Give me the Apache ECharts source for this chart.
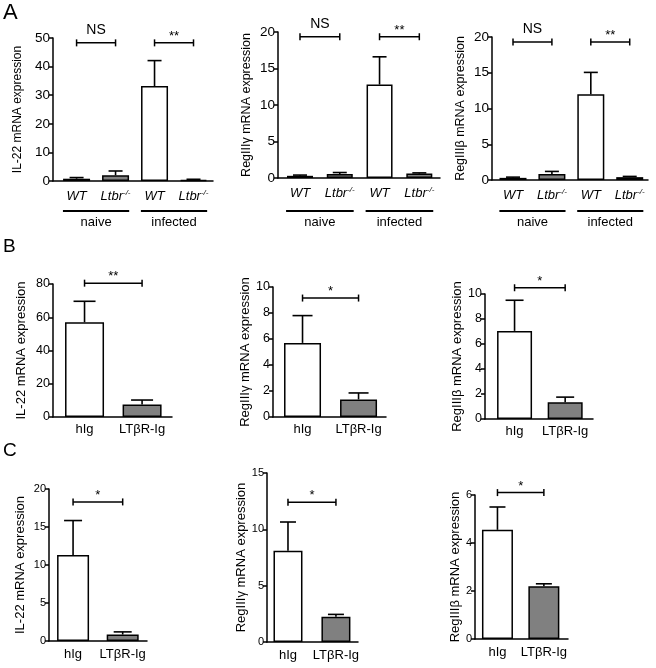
<!DOCTYPE html>
<html>
<head>
<meta charset="utf-8">
<script src="https://cdn.jsdelivr.net/npm/echarts@6/dist/echarts.min.js"></script>
<style>html,body{margin:0;padding:0;background:#fff}#c{width:656px;height:668px}</style>
</head>
<body>
<div id="c"></div>
<script>
// ---------- data ----------
const catsA = ['WT', 'Ltbr-/-', 'WT', 'Ltbr-/-'];
const groupsA = ['naive', 'infected'];
const groupSpansA = [[-0.35, 1.35], [1.65, 3.35]];
const catsBC = ['hIg', 'LTβR-Ig'];

const il22A = [0.8, 2.0, 33.2, 0.4];
const il22ASem = [0.4, 1.5, 8.9, 0.2];
const reg3gA = [0.3, 0.55, 12.8, 0.6];
const reg3gASem = [0.1, 0.2, 3.8, 0.1];
const reg3bA = [0.3, 0.85, 12.0, 0.4];
const reg3bASem = [0.1, 0.35, 3.05, 0.1];

const il22B = [57, 7.5];
const il22BSem = [12.6, 2.7];
const reg3gB = [5.7, 1.35];
const reg3gBSem = [2.1, 0.5];
const reg3bB = [7.05, 1.35];
const reg3bBSem = [2.45, 0.4];

const il22C = [11.3, 0.85];
const il22CSem = [4.55, 0.35];
const reg3gC = [8.1, 2.25];
const reg3gCSem = [2.55, 0.2];
const reg3bC = [4.55, 2.2];
const reg3bCSem = [0.95, 0.1];

const sigLabelsA = ['NS', '**'];
const sigPairsA = [[0, 1], [2, 3]];
const sigHeightsA1 = [48.3, 48.3];
const sigHeightsA2 = [19.35, 19.35];
const sigHeightsA3 = [19.3, 19.3];
const sigB = ['**', '*', '*'];
const sigHeightsB = [80.5, 9.15, 10.5];
const sigC = ['*', '*', '*'];
const sigHeightsC = [18.3, 12.4, 6.1];

const yMaxes = [50, 20, 20, 80, 10, 10, 20, 15, 6];
const yIntervals = [10, 5, 5, 20, 2, 2, 5, 5, 2];
const yNames = ['IL-22 mRNA expression', 'RegIIIγ mRNA expression', 'RegIIIβ mRNA expression',
                'IL-22 mRNA expression', 'RegIIIγ mRNA expression', 'RegIIIβ mRNA expression',
                'IL-22 mRNA expression', 'RegIIIγ mRNA expression', 'RegIIIβ mRNA expression'];
const panelLetters = ['A', 'B', 'C'];

// ---------- layout / styles ----------
const FONT = 'Liberation Sans, Arial, Helvetica, sans-serif';
const WHITE = '#ffffff', GRAY = '#808080';
const panels = [
  {L:53, T:38, Y0:181, E:213, xmin:-0.605, xmax:3.5, bw:27, cats:catsA, vals:il22A, sem:il22ASem, tick:13.5, nameSize:12, gap:29, lab:13, labMargin:8, sig:sigLabelsA, pairs:sigPairsA, sh:sigHeightsA1, groups:true, gOff:30},
  {L:278, T:32, Y0:178, E:440, xmin:-0.553, xmax:3.52, bw:26, cats:catsA, vals:reg3gA, sem:reg3gASem, tick:13.5, nameSize:12.5, gap:25, lab:13, labMargin:8, sig:sigLabelsA, pairs:sigPairsA, sh:sigHeightsA2, groups:true, gOff:33},
  {L:492, T:37, Y0:180, E:648, xmin:-0.54, xmax:3.47, bw:27, cats:catsA, vals:reg3bA, sem:reg3bASem, tick:13.5, nameSize:12.5, gap:25, lab:13, labMargin:8, sig:sigLabelsA, pairs:sigPairsA, sh:sigHeightsA3, groups:true, gOff:31},
  {L:53, T:284, Y0:417, E:172, xmin:-0.548, xmax:1.52, bw:39, cats:catsBC, vals:il22B, sem:il22BSem, tick:12.5, nameSize:13, gap:25, lab:13, labMargin:6, sig:[sigB[0]], pairs:[[0,1]], sh:[sigHeightsB[0]]},
  {L:273, T:287, Y0:417, E:386, xmin:-0.527, xmax:1.49, bw:37, cats:catsBC, vals:reg3gB, sem:reg3gBSem, tick:12.5, nameSize:13, gap:20, lab:13, labMargin:6, sig:[sigB[1]], pairs:[[0,1]], sh:[sigHeightsB[1]]},
  {L:485, T:294, Y0:419, E:593, xmin:-0.584, xmax:1.55, bw:35, cats:catsBC, vals:reg3bB, sem:reg3bBSem, tick:12.5, nameSize:13, gap:20, lab:13, labMargin:6, sig:[sigB[2]], pairs:[[0,1]], sh:[sigHeightsB[2]]},
  {L:49, T:489, Y0:641, E:147, xmin:-0.485, xmax:1.49, bw:32, cats:catsBC, vals:il22C, sem:il22CSem, tick:11, nameSize:13, gap:22, lab:13, labMargin:7, sig:[sigC[0]], pairs:[[0,1]], sh:[sigHeightsC[0]]},
  {L:267, T:473, Y0:642, E:358, xmin:-0.4375, xmax:1.46, bw:29, cats:catsBC, vals:reg3gC, sem:reg3gCSem, tick:11, nameSize:13, gap:19, lab:13, labMargin:7, sig:[sigC[1]], pairs:[[0,1]], sh:[sigHeightsC[1]]},
  {L:475, T:495, Y0:639, E:568, xmin:-0.484, xmax:1.52, bw:31, cats:catsBC, vals:reg3bC, sem:reg3bCSem, tick:11, nameSize:13, gap:12, lab:13, labMargin:7, sig:[sigC[2]], pairs:[[0,1]], sh:[sigHeightsC[2]]}
];

const lineStyle = {color:'#000', width:1.5};
const option = {
  animation:false,
  backgroundColor:'#fff',
  textStyle:{fontFamily:FONT},
  title:[
    {text:panelLetters[0], left:3, top:2, padding:0, textStyle:{fontSize:22, fontWeight:'normal', color:'#000', fontFamily:FONT}},
    {text:panelLetters[1], left:3, top:237, padding:0, textStyle:{fontSize:19, fontWeight:'normal', color:'#000', fontFamily:FONT}},
    {text:panelLetters[2], left:3, top:441, padding:0, textStyle:{fontSize:19, fontWeight:'normal', color:'#000', fontFamily:FONT}}
  ],
  grid:[], xAxis:[], yAxis:[], series:[]
};

function labelFmt(cats){
  return function(v){
    const s = cats[Math.round(v)];
    if (s === 'Ltbr-/-') return '{i|Ltbr}{s|-/-}';
    if (s === 'WT') return '{i|WT}';
    return s;
  };
}

panels.forEach((p, i) => {
  option.grid.push({left:p.L, top:p.T, width:p.E - p.L, height:p.Y0 - p.T, containLabel:false});
  const idx = p.cats.map((c, k) => k);
  option.xAxis.push({
    type:'value', gridIndex:i, min:p.xmin, max:p.xmax,
    axisLine:{show:true, onZero:false, lineStyle:lineStyle},
    axisTick:{show:false},
    splitLine:{show:false},
    axisLabel:{customValues:idx, formatter:labelFmt(p.cats), color:'#000', fontSize:p.lab, margin:p.labMargin, fontFamily:FONT,
      rich:{i:{fontStyle:'italic', fontSize:p.lab, color:'#000', fontFamily:FONT, lineHeight:15},
            s:{fontStyle:'italic', fontSize:8, color:'#000', fontFamily:FONT, verticalAlign:'top', lineHeight:8}}}
  });
  option.yAxis.push({
    type:'value', gridIndex:i, min:0, max:yMaxes[i], interval:yIntervals[i],
    name:yNames[i], nameLocation:'middle', nameGap:p.gap, nameRotate:90,
    nameTextStyle:{fontSize:p.nameSize, color:'#000', fontFamily:FONT},
    axisLine:{show:true, onZero:false, lineStyle:lineStyle},
    axisTick:{show:true, length:4, lineStyle:lineStyle},
    splitLine:{show:false},
    axisLabel:{color:'#000', fontSize:p.tick, margin:3, fontFamily:FONT}
  });
  // bars
  option.series.push({
    type:'bar', xAxisIndex:i, yAxisIndex:i, barWidth:p.bw,
    data:p.vals.map((v, k) => ({value:[k, v], itemStyle:{color: (k % 2 === 0) ? WHITE : GRAY, borderColor:'#000', borderWidth:1.5}}))
  });
  // error bars
  const cap = Math.round(p.bw * 0.27);
  option.series.push({
    type:'custom', xAxisIndex:i, yAxisIndex:i, clip:false, z:5,
    encode:{x:0, y:[1, 2]},
    data:p.vals.map((v, k) => [k, v, v + p.sem[k]]),
    renderItem:function(params, api){
      const x = api.value(0);
      const a = api.coord([x, api.value(1)]);
      const b = api.coord([x, api.value(2)]);
      const st = {stroke:'#000', lineWidth:1.6};
      return {type:'group', children:[
        {type:'line', shape:{x1:a[0], y1:a[1], x2:b[0], y2:b[1]}, style:st},
        {type:'line', shape:{x1:b[0]-cap, y1:b[1], x2:b[0]+cap, y2:b[1]}, style:st}
      ]};
    }
  });
  // significance brackets
  option.series.push({
    type:'custom', xAxisIndex:i, yAxisIndex:i, clip:false, z:5,
    encode:{x:[0, 1], y:2},
    data:p.pairs.map((pr, k) => [pr[0], pr[1], p.sh[k]]),
    renderItem:function(params, api){
      const a = api.coord([api.value(0), api.value(2)]);
      const b = api.coord([api.value(1), api.value(2)]);
      const st = {stroke:'#000', lineWidth:1.5};
      const lbl = p.sig[params.dataIndex];
      const isStar = lbl.indexOf('*') >= 0;
      return {type:'group', children:[
        {type:'line', shape:{x1:a[0], y1:a[1], x2:b[0], y2:b[1]}, style:st},
        {type:'line', shape:{x1:a[0], y1:a[1]-3.5, x2:a[0], y2:a[1]+3.5}, style:st},
        {type:'line', shape:{x1:b[0], y1:b[1]-3.5, x2:b[0], y2:b[1]+3.5}, style:st},
        {type:'text', x:(a[0]+b[0])/2, y:a[1] - (isStar ? 0 : 6),
          style:{text:lbl, fill:'#000', font:(isStar ? '13px ' : '14px ') + FONT, align:'center', verticalAlign:'bottom'}}
      ]};
    }
  });
  // group lines (panel A)
  if (p.groups) {
    option.series.push({
      type:'custom', xAxisIndex:i, yAxisIndex:i, clip:false, z:5,
      encode:{x:[0, 1]},
      data:groupSpansA.map(s => [s[0], s[1]]),
      renderItem:function(params, api){
        const a = api.coord([api.value(0), 0]);
        const b = api.coord([api.value(1), 0]);
        const y = a[1] + p.gOff;
        return {type:'group', children:[
          {type:'line', shape:{x1:a[0], y1:y, x2:b[0], y2:y}, style:{stroke:'#000', lineWidth:2}},
          {type:'text', x:(a[0]+b[0])/2, y:y + 5,
            style:{text:groupsA[params.dataIndex], fill:'#000', font:'13px ' + FONT, align:'center', verticalAlign:'top'}}
        ]};
      }
    });
  }
});

const chart = echarts.init(document.getElementById('c'), null, {renderer:'canvas', width:656, height:668});
chart.setOption(option);
</script>
</body>
</html>
